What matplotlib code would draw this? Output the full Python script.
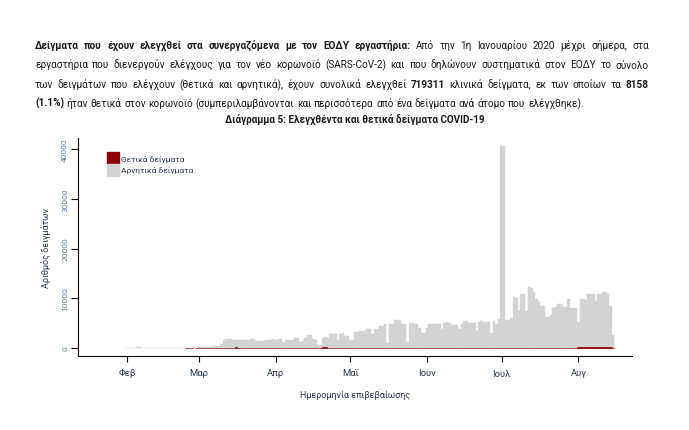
import numpy as np
import matplotlib
matplotlib.use('Agg')
import matplotlib.pyplot as plt
import matplotlib.dates as mdates
from matplotlib.patches import Rectangle

plt.rcParams['font.family'] = ['Roboto', 'DejaVu Sans']

# samples tested per day (positive + negative), 2020
total_feb = [0, 0, 0, 0, 250, 200] + [0] * 18 + [30, 40, 90, 120, 100]
total_mar = [150, 180, 200, 250, 230, 280, 320, 350,
             420, 900, 1700, 1800, 1850, 1750, 1600, 1650, 1600, 1550, 1600, 1650,
             1600, 1800, 1850, 1500, 1450, 1500, 1400, 1550, 1700, 1650, 1750]
total_apr = [1700, 1800, 1850, 1300, 1550, 1600, 1650, 1600, 2100, 2050,
             1200, 1350, 2000, 2700, 2600, 1800, 1650, 700, 550, 2100,
             2150, 2050, 2900, 2850, 2900, 1700, 2900, 2950, 2400, 2350]
total_may = [1600, 1550, 3300, 3250, 3350, 3400, 3400, 3900, 3850, 2900,
             3800, 3750, 4500, 4450, 4900, 1000, 4800, 4850, 5600, 5550,
             5600, 4800, 4750, 1200, 5100, 5050, 4800, 4750, 4100, 3100, 3050]
total_jun = [4100, 4800, 4850, 4750, 4800, 4800, 3800, 5100, 5150, 5050,
             4600, 4650, 4550, 3800, 4800, 5500, 5450, 5000, 5050, 4950,
             3400, 5300, 5350, 5250, 5300, 5200, 3100, 5500, 4800, 5800]
total_jul = [40700, 40700, 5700, 5650, 6100, 10200, 10100, 7500, 10900, 10800,
             7500, 12200, 12100, 11200, 9900, 9200, 8500, 8400, 6200, 6300,
             6700, 8100, 8200, 8900, 8800, 8300, 8350, 9900, 8100, 8150, 8000]
total_aug = [5200, 9900, 9850, 9700, 10900, 10850, 10900, 9500, 10900, 10950,
             11300, 11250, 10800, 8400, 2600]

# positive samples per day
pos_feb = [0] * 24 + [1, 1, 1, 0, 1]
pos_mar = [1, 2, 3, 2, 10, 15, 20, 25,
           30, 40, 60, 70, 80, 90, 100, 110, 90, 85, 95, 80,
           70, 75, 90, 100, 95, 80, 70, 75, 80, 85, 70]
pos_apr = [65, 60, 75, 70, 60, 55, 50, 70, 80, 60,
           50, 45, 40, 70, 80, 60, 50, 30, 25, 180,
           150, 45, 35, 30, 25, 20, 20, 25, 20, 15]
pos_may = [10, 12, 15, 14, 12, 10, 15, 12, 10, 8,
           12, 15, 14, 12, 5, 15, 18, 20, 18, 15,
           10, 5, 15, 18, 16, 14, 12, 8, 10, 12, 10]
pos_jun = [10, 12, 15, 14, 12, 10, 12, 15, 18, 16,
           14, 10, 12, 20, 22, 25, 20, 18, 15, 12,
           20, 25, 22, 25, 20, 15, 22, 28, 30, 25]
pos_jul = [40, 35, 30, 25, 30, 35, 30, 25, 30, 35,
           40, 30, 45, 50, 40, 35, 30, 25, 35, 30,
           35, 45, 40, 35, 40, 50, 45, 60, 70, 80, 90]
pos_aug = [110, 120, 130, 140, 150, 160, 140, 170, 190, 200, 210, 220, 200, 180, 60]

month_starts = ['2020-02-01', '2020-03-01', '2020-04-01', '2020-05-01',
                '2020-06-01', '2020-07-01', '2020-08-01']
month_labels = ['Φεβ', 'Μαρ', 'Απρ', 'Μαΐ', 'Ιουν', 'Ιουλ', 'Αυγ']

total = np.array(total_feb + total_mar + total_apr + total_may + total_jun + total_jul + total_aug)
positive = np.array(pos_feb + pos_mar + pos_apr + pos_may + pos_jun + pos_jul + pos_aug)
negative = total - positive
days = np.arange('2020-02-01', '2020-08-16', dtype='datetime64[D]')
x = mdates.date2num(days)

W, H = 689, 431
fig = plt.figure(figsize=(W / 100, H / 100), dpi=100)
txt_col = '#1a1a1a'
red = '#8b0000'
grey = '#d3d3d3'


def draw_line(parts, y, x0=35, x1=649, justify=True, size=7.2):
    words = []
    for t, bold in parts:
        for w in t.split():
            words.append((w, bold))
    r = fig.canvas.get_renderer()
    objs = [fig.text(0, 1 - y / H, w, fontsize=size, color=txt_col, va='baseline',
                     fontweight='bold' if b else 'normal') for w, b in words]
    widths = [o.get_window_extent(r).width for o in objs]
    gap = (x1 - x0 - sum(widths)) / (len(objs) - 1) if justify else 2.6
    xp = x0
    for o, w in zip(objs, widths):
        o.set_x(xp / W)
        xp += w + gap


draw_line([('Δείγματα που έχουν ελεγχθεί στα συνεργαζόμενα με τον ΕΟΔΥ εργαστήρια:', True),
           ('Από την 1η Ιανουαρίου 2020 μέχρι σήμερα, στα', False)], 49)
draw_line([('εργαστήρια που διενεργούν ελέγχους για τον νέο κορωνοϊό (SARS-CoV-2) και που '
            'δηλώνουν συστηματικά στον ΕΟΔΥ το σύνολο', False)], 68.5)
draw_line([('των δειγμάτων που ελέγχουν (θετικά και αρνητικά), έχουν συνολικά ελεγχθεί', False),
           ('719311', True), ('κλινικά δείγματα, εκ των οποίων τα', False), ('8158', True)], 88)
draw_line([('(1.1%)', True),
           ('ήταν θετικά στον κορωνοϊό (συμπεριλαμβάνονται και περισσότερα από ένα δείγματα '
            'ανά άτομο που ελέγχθηκε).', False)], 107, justify=False)

ax = fig.add_axes([78 / W, 1 - 357 / H, (632 - 78) / W, (357 - 139) / H])
ax.bar(x, negative, width=1.0, bottom=positive, color=grey,
       edgecolor=grey, linewidth=0.3)
# thin edge keeps the small positive counts visible as in the original
ax.bar(x, positive, width=1.0, color=red, edgecolor=red,
       linewidth=np.where(positive > 0, 0.5, 0))

x_feb = mdates.date2num(np.datetime64('2020-02-01'))
ax.set_xlim(x_feb - 19.8, x_feb + 203.6)
ax.set_ylim(-1600, 42250)
ax.set_xticks(mdates.date2num(np.array(month_starts, dtype='datetime64[D]')))
ax.set_xticklabels(month_labels, fontsize=6.8, color='#2b3a55')
ax.set_yticks([0, 10000, 20000, 30000, 40000])
ax.set_yticklabels(['0', '10000', '20000', '30000', '40000'], fontsize=6, color='#5b80b8',
                   rotation=90, va='center')
ax.tick_params(axis='x', length=4, width=0.8, pad=5)
ax.tick_params(axis='y', length=5, width=0.8, pad=2)
for s in ['top', 'right']:
    ax.spines[s].set_visible(False)
for s in ['left', 'bottom']:
    ax.spines[s].set_linewidth(0.8)

ax.set_title('Διάγραμμα 5: Ελεγχθέντα και θετικά δείγματα COVID-19', fontsize=7.1,
             fontweight='bold', color=txt_col, pad=12)
ax.set_xlabel('Ημερομηνία επιβεβαίωσης', fontsize=6.5, color='#2b3a55', labelpad=9)
ax.set_ylabel('Αριθμός δειγμάτων', fontsize=6.5, color='#2b3a55', labelpad=8)

# legend
fig.patches.append(Rectangle((107 / W, 1 - 165 / H), 12 / W, 12 / H,
                             transform=fig.transFigure, color=red))
fig.patches.append(Rectangle((107 / W, 1 - 177 / H), 12 / W, 12 / H,
                             transform=fig.transFigure, color=grey))
fig.text(121 / W, 1 - 159.5 / H, 'Θετικά δείγματα', fontsize=6, color='#2b3a55', va='center')
fig.text(121 / W, 1 - 170.5 / H, 'Αρνητικά δείγματα', fontsize=6, color='#2b3a55', va='center')

fig.savefig('out.png', dpi=100)
